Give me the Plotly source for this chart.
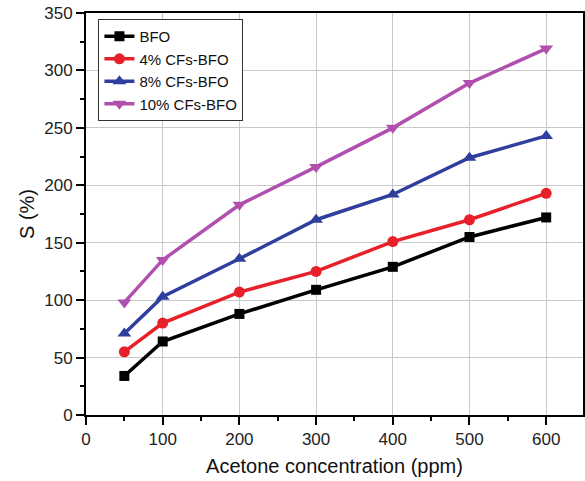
import plotly.graph_objects as go

conc = [50, 100, 200, 300, 400, 500, 600]
bfo = [34, 64, 88, 109, 129, 155, 172]
cf4 = [55, 80, 107, 125, 151, 170, 193]
cf8 = [71, 103, 136, 170, 192, 224, 243]
cf10 = [98, 135, 183, 216, 250, 289, 319]

series = [
    ("BFO", bfo, "#000000", "square", 10),
    ("4% CFs-BFO", cf4, "#e8202a", "circle", 11),
    ("8% CFs-BFO", cf8, "#2f3f9e", "triangle-up", 12),
    ("10% CFs-BFO", cf10, "#b04fae", "triangle-down", 12),
]

fig = go.Figure()
for name, ys, col, sym, sz in series:
    fig.add_trace(go.Scatter(x=conc, y=ys, name=name, mode="lines+markers",
                             line=dict(color=col, width=3.5),
                             marker=dict(symbol=sym, size=sz, color=col)))

font_fam = "Liberation Sans, Arial"
axis_common = dict(showline=True, linecolor="black", linewidth=2, ticks="outside",
                   ticklen=8, tickwidth=1.5, tickcolor="black", showgrid=True,
                   gridcolor="#c8c8c8", gridwidth=1, zeroline=False,
                   tickfont=dict(family=font_fam, size=17, color="#222"))

fig.update_xaxes(range=[0, 648], tickvals=[0, 100, 200, 300, 400, 500, 600],
                 minor=dict(tickvals=[50, 150, 250, 350, 450, 550, 650], ticklen=4, tickcolor="black", showgrid=False),
                 mirror=True,
                 title=dict(text="Acetone concentration (ppm)", font=dict(family=font_fam, size=20, color="#111"), standoff=11),
                 **axis_common)
fig.update_yaxes(range=[0, 350], tickvals=[0, 50, 100, 150, 200, 250, 300, 350],
                 minor=dict(tickvals=[25, 75, 125, 175, 225, 275, 325], ticklen=4, tickcolor="black", showgrid=False),
                 mirror=True,
                 title=dict(text="S (%)", font=dict(family=font_fam, size=20, color="#111"), standoff=4),
                 **axis_common)

fig.update_layout(width=585, height=481, margin=dict(l=86, r=0, t=13, b=66),
                  plot_bgcolor="white", paper_bgcolor="white",
                  legend=dict(x=0.025, y=0.985, xanchor="left", yanchor="top",
                              bgcolor="white", bordercolor="#333", borderwidth=1,
                              font=dict(family=font_fam, size=15, color="#111"),
                              tracegroupgap=0, itemwidth=30))

fig.write_html("out.html")
